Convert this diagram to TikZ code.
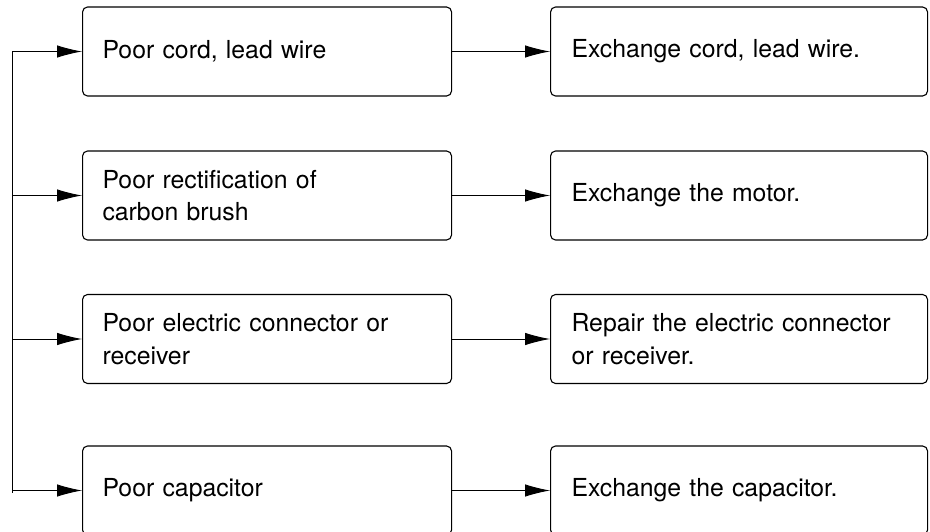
\documentclass[tikz,border=0pt]{standalone}
\usepackage{fontspec}
\setmainfont{TeX Gyre Heros}
\usetikzlibrary{arrows.meta}
\begin{document}
\begin{tikzpicture}[x=1pt,y=1pt,
  cause/.style={draw, line width=1.1pt, rounded corners=5pt, minimum width=369pt, minimum height=89pt,
    text width=329pt, align=left, inner xsep=20pt, inner ysep=0pt,
    font=\fontsize{24.8}{32.3}\selectfont},
  remedy/.style={cause, minimum width=377pt, text width=335pt, inner xsep=21pt},
  conn/.style={line width=0.9pt, -{Latex[length=25pt,width=12.5pt]}},
  spine/.style={line width=0.9pt}]
\useasboundingbox (0,0) rectangle (930,531);
\node[cause, anchor=west] (L1) at (82,479.5) {Poor cord, lead wire};
\node[cause, anchor=west] (L2) at (82,335.5) {Poor rectification of\\carbon brush};
\node[cause, anchor=west] (L3) at (82,192) {Poor electric connector or\\receiver};
\node[cause, anchor=west] (L4) at (82,40.5) {Poor capacitor};
\node[remedy, anchor=west] (R1) at (550,479.5) {Exchange cord, lead wire.};
\node[remedy, anchor=west] (R2) at (550,335.5) {Exchange the motor.};
\node[remedy, anchor=west] (R3) at (550,192) {Repair the electric connector\\or receiver.};
\node[remedy, anchor=west] (R4) at (550,40.5) {Exchange the capacitor.};
\coordinate (j1) at (12,479.5);
\coordinate (j2) at (12,335.5);
\coordinate (j3) at (12,192);
\coordinate (j4) at (12,40.5);
\coordinate (jend) at (12,38.5);
\draw[spine] (j1) -- (jend);
\foreach \i in {1,2,3,4}{
  \draw[conn] (j\i) -- (L\i.west);
  \draw[conn] (L\i.east) -- (R\i.west);
}
\end{tikzpicture}
\end{document}
